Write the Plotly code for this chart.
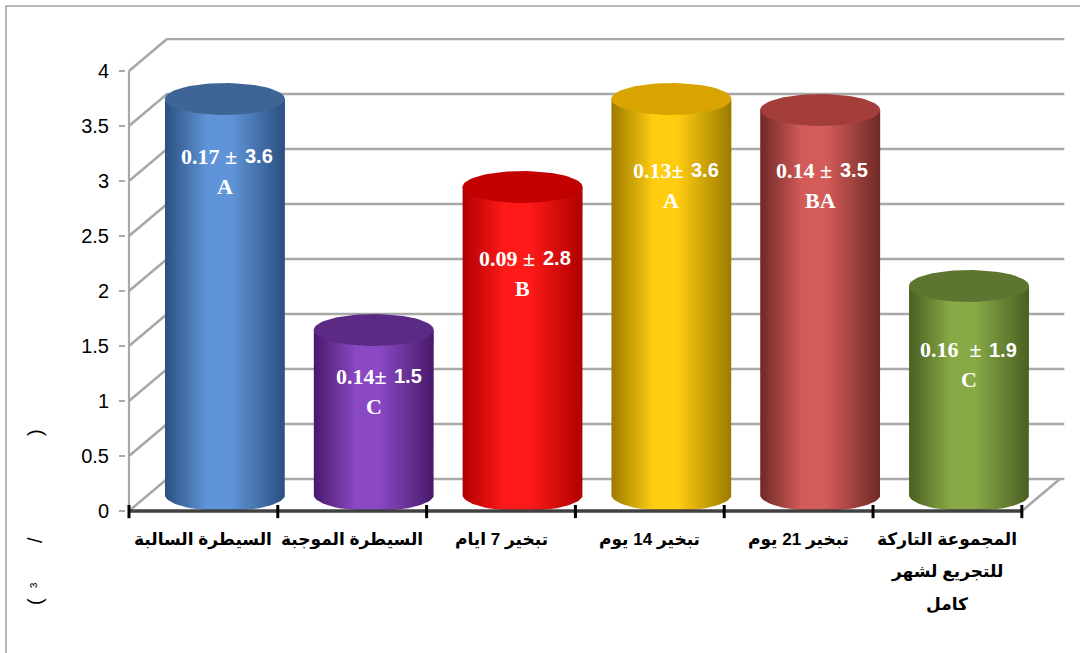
import numpy as np
import plotly.graph_objects as go

# ---------------- data ----------------
categories = ["السيطرة السالبة", "السيطرة الموجبة", "تبخير 7 ايام",
              "تبخير 14 يوم", "تبخير 21 يوم", "المجموعة التاركة<br>للتجريع لشهر<br>كامل"]
means = [3.6, 1.5, 2.8, 3.6, 3.5, 1.9]
errors = ["0.17", "0.14", "0.09", "0.13", "0.14", "0.16"]
sep = [" ± ", "± ", " ± ", "± ", " ± ", "  ± "]
letters = ["A", "C", "B", "A", "BA", "C"]
y_ticks = [0, 0.5, 1, 1.5, 2, 2.5, 3, 3.5, 4]

# ---------------- style ----------------
body_cols = [("#2B4F80", "#5F95D8"), ("#48196A", "#8A48C4"), ("#B00000", "#FF1A1A"),
             ("#9C7A00", "#FFCC10"), ("#6E2927", "#D35C58"), ("#4A5F22", "#88AA46")]
cap_cols = ["#3E6596", "#5B2A84", "#C20000", "#D9A400", "#A23D3A", "#5E7531"]
label_y = [3.09, 1.09, 2.16, 2.96, 2.96, 1.33]

DX, DY = 0.2554, 0.291       # depth offset of back wall (data units)
RX, RY = 0.403, DY / 2       # cylinder radii
XOFF = 0.145                 # cylinder centre shift (half depth)
GRID = "#A8A8A8"
PLOT_BOTTOM_PX, PLOT_H_PX = 522, 484

fig = go.Figure()

# walls / gridlines
gx, gy = [], []
for v in y_ticks:
    gx += [-0.5, -0.5 + DX, 5.5 + DX + 0.03, None]
    gy += [v, v + DY, v + DY, None]
gx += [5.5, 5.5 + DX, None]
gy += [0, DY, None]
fig.add_trace(go.Scatter(x=gx, y=gy, mode="lines", line=dict(color=GRID, width=2.6),
                         hoverinfo="skip", showlegend=False))
fig.add_trace(go.Scatter(x=[-0.5, -0.5], y=[0, 4], mode="lines",
                         line=dict(color=GRID, width=2.2), hoverinfo="skip", showlegend=False))

# cylinders
t = np.linspace(0, np.pi, 40)
ta = np.linspace(0, 2 * np.pi, 80)
NB = "\u00a0"
for i, v in enumerate(means):
    cx = i + XOFF
    yb = RY
    yt = v + RY
    bx = list(cx + RX * np.cos(t))
    by = list(yb - RY * np.sin(t))
    xs = [cx - RX, cx - RX, cx + RX] + bx
    ys = [yb, yt, yt] + by
    dark, light = body_cols[i]
    fig.add_trace(go.Scatter(
        x=xs, y=ys, mode="lines", fill="toself", line=dict(width=0),
        fillgradient=dict(type="horizontal",
                          colorscale=[[0, dark], [0.35, light], [0.55, light], [1, dark]]),
        hoverinfo="skip", showlegend=False))
    fig.add_trace(go.Scatter(
        x=list(cx + RX * np.cos(ta)), y=list(yt + RY * np.sin(ta)), mode="lines",
        fill="toself", line=dict(width=0), fillcolor=cap_cols[i],
        hoverinfo="skip", showlegend=False))
    # value label: serif part + sans number
    fig.add_annotation(
        x=cx, y=label_y[i], xref="x", yref="y", showarrow=False,
        text=(errors[i] + sep[i]).replace(" ", NB), xanchor="right", xshift=20,
        font=dict(family="Liberation Serif", size=22, color="white", weight="bold"),
        yshift=15)
    fig.add_annotation(
        x=cx, y=label_y[i], xref="x", yref="y", showarrow=False,
        text=f"{means[i]}", xanchor="left", xshift=18,
        font=dict(family="Liberation Sans", size=20, color="white", weight="bold"),
        yshift=15)
    fig.add_annotation(
        x=cx, y=label_y[i], xref="x", yref="y", showarrow=False, text=letters[i],
        font=dict(family="Liberation Serif", size=22, color="white", weight="bold"),
        yshift=-15)

# front floor line with tick marks
fig.add_trace(go.Scatter(x=[-0.5, 5.5], y=[0, 0], mode="lines", line=dict(color="#404040", width=3.5),
                         hoverinfo="skip", showlegend=False))
tx, ty = [], []
for b in range(len(categories) + 1):
    tx += [b - 0.5, b - 0.5, None]
    ty += [-0.065, 0.055, None]
fig.add_trace(go.Scatter(x=tx, y=ty, mode="lines", line=dict(color="#000000", width=3),
                         hoverinfo="skip", showlegend=False))

# category labels (line by line, Excel-like spacing)
for i, cat in enumerate(categories):
    for k, line in enumerate(cat.split("<br>")):
        py = 540 + 32 * k
        fig.add_annotation(x=i, y=(PLOT_BOTTOM_PX - py) / PLOT_H_PX, xref="x", yref="paper",
                           text=line, showarrow=False, xanchor="center", yanchor="middle",
                           font=dict(family="Liberation Sans, DejaVu Sans", size=17,
                                     color="black", weight="bold"))

# broken y-axis title pieces
for ch, py, sz in [("(", 602, 20), ("³", 585, 16), ("/", 540, 20), (")", 433, 20)]:
    fig.add_annotation(x=(35 - 126) / 939, y=(PLOT_BOTTOM_PX - py) / PLOT_H_PX,
                       xref="paper", yref="paper", text=ch, showarrow=False,
                       xanchor="center", yanchor="middle",
                       textangle=-90, font=dict(family="Liberation Sans", size=sz, color="black"))

# outer chart border
fig.add_shape(type="rect", xref="paper", yref="paper",
              x0=(6 - 126) / 939, x1=1.03, y0=-0.3, y1=(PLOT_BOTTOM_PX - 6) / PLOT_H_PX,
              line=dict(color="#A0A0A0", width=1.5), fillcolor="rgba(0,0,0,0)")

fig.update_layout(
    width=1080, height=653,
    margin=dict(l=126, r=15, t=38, b=131),
    paper_bgcolor="white", plot_bgcolor="white",
    showlegend=False,
    xaxis=dict(range=[-0.52, 5.79], tickvals=list(range(len(categories))),
               ticktext=[""] * len(categories), automargin=False,
               showgrid=False, zeroline=False, showline=False, ticks=""),
    yaxis=dict(range=[-0.1, 4.3], tickvals=y_ticks, ticktext=[f"{v:g}" for v in y_ticks],
               showgrid=False, zeroline=False, showline=False, automargin=False,
               ticks="outside", ticklen=6, tickcolor=GRID, tickwidth=1.5,
               tickfont=dict(family="Liberation Sans", size=20, color="black"),
               ticklabelstandoff=6),
)

fig.write_html("out.html", config={"displayModeBar": False},
               post_script="document.body.style.margin='0';")
